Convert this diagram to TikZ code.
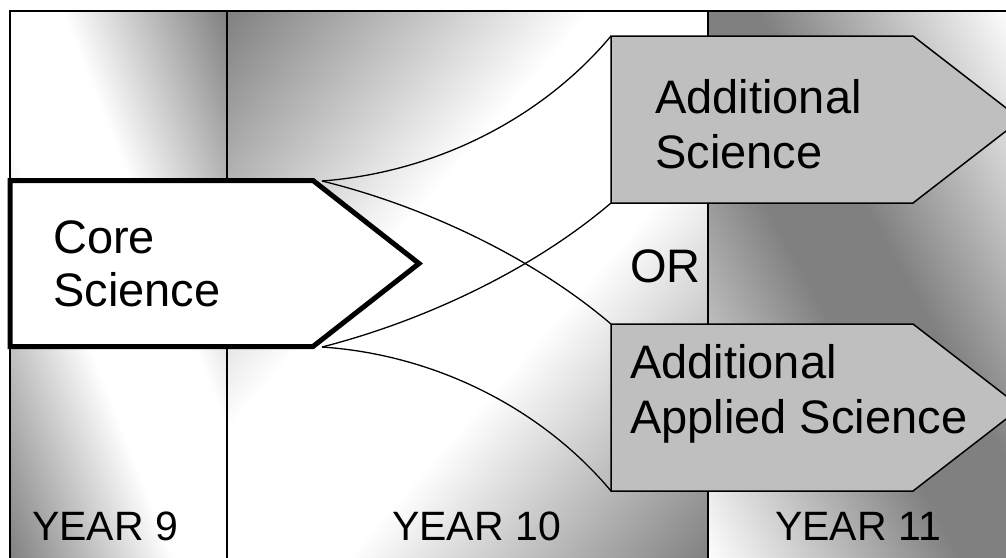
\documentclass[tikz,border=0pt]{standalone}
\usepackage{fontspec}
\setmainfont{Liberation Sans}
\pgfdeclareverticalshading{lightband}{100bp}{color(0bp)=(black!50); color(25bp)=(black!50); color(44bp)=(white); color(56bp)=(white); color(75bp)=(black!50); color(100bp)=(black!50)}
\pgfdeclareverticalshading{darkband}{100bp}{color(0bp)=(white); color(25bp)=(white); color(46bp)=(black!50); color(54bp)=(black!50); color(75bp)=(white); color(100bp)=(white)}

\begin{document}
\begin{tikzpicture}[x=1pt, y=-1pt,
	column/.style={draw=black, line width=1.3pt},
	choice/.style={fill=black!25, draw=black, line width=1.5pt, line join=miter},
	route/.style={draw=black, line width=1.3pt},
	boxtext/.style={anchor=base west, align=left, inner sep=0pt, font=\fontsize{47}{55}\selectfont},
	yeartext/.style={anchor=base west, inner sep=0pt, font=\fontsize{41}{49}\selectfont}]
	\useasboundingbox (0,0) rectangle (1006,557);
	\clip (0,0) rectangle (1006,557);

	\begin{scope}
		\clip (10,11) rectangle (227,562);
		\shade[shading=lightband, transform canvas={rotate around={-68.5:(118.5,286.5)}}] (-200,84.5) rectangle (437,488.5);
	\end{scope}
	\begin{scope}
		\clip (227,11) rectangle (708,562);
		\shade[shading=lightband, transform canvas={rotate around={48.9:(467.5,286.5)}}] (67.5,-76) rectangle (867.5,649);
	\end{scope}
	\begin{scope}
		\clip (708,11) rectangle (1012,562);
		\shade[shading=darkband, transform canvas={rotate around={-61.1:(860,286.5)}}] (500,20.5) rectangle (1220,552.5);
	\end{scope}
	\draw[column] (10,11) rectangle (227,562);
	\draw[column] (227,11) rectangle (708,562);
	\draw[column] (708,11) rectangle (1012,562);

	\coordinate (coreNE) at (322,181);
	\coordinate (coreSE) at (322,347);
	\coordinate (asNW) at (611,36);
	\coordinate (asSW) at (611,203);
	\coordinate (aasNW) at (611,324);
	\coordinate (aasSW) at (611,491);

	\draw[route] (coreNE) .. controls (440,172) and (545,115) .. (asNW);
	\draw[route] (coreNE) .. controls (420,205) and (530,255) .. (aasNW);
	\draw[route] (coreSE) .. controls (420,322) and (530,272) .. (asSW);
	\draw[route] (coreSE) .. controls (440,355) and (545,412) .. (aasSW);

	\filldraw[fill=white, draw=black, line width=5pt, line join=miter] (10,180.5) -- (313,180.5) -- (419,263.5) -- (313,346.5) -- (10,346.5) -- cycle;
	\filldraw[choice] (asNW) -- (913,36) -- (1021,119.5) -- (913,203) -- (asSW) -- cycle;
	\filldraw[choice] (aasNW) -- (913,324) -- (1021,407.5) -- (913,491) -- (aasSW) -- cycle;

	\node[boxtext, font=\fontsize{47}{53}\selectfont] (core) at (53,306) {Core\\Science};
	\node[boxtext] (addsci) at (655,168) {Additional\\Science};
	\node[boxtext] (addapp) at (630,433) {Additional\\Applied Science};
	\node[boxtext] (or) at (630,282) {OR};

	\node[yeartext] (year9) at (32,540) {YEAR 9};
	\node[yeartext] (year10) at (392,540) {YEAR 10};
	\node[yeartext] (year11) at (775,540) {YEAR 11};
\end{tikzpicture}
\end{document}
